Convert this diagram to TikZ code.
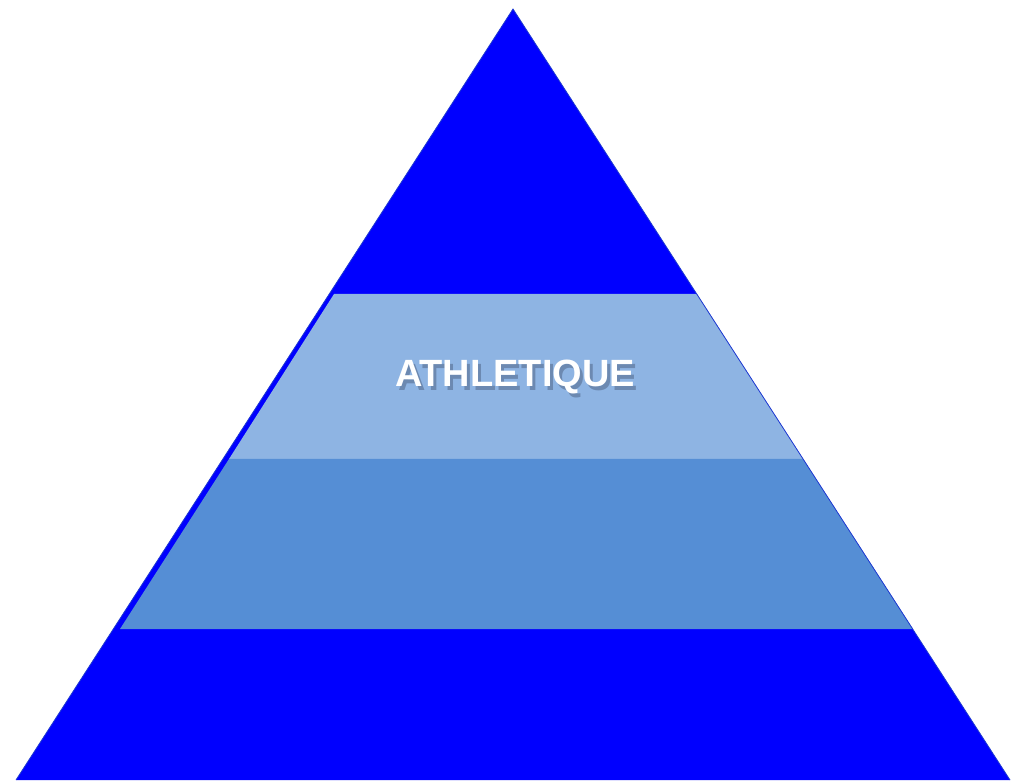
\documentclass[tikz,border=0pt]{standalone}
\usepackage{fontspec}
\setmainfont{Liberation Sans}
\definecolor{pyrblue}{HTML}{0000FF}
\definecolor{bandlight}{HTML}{8EB4E3}
\definecolor{bandmid}{HTML}{558ED5}
\definecolor{edgeblue}{HTML}{1E3AD0}
\definecolor{shadowgray}{HTML}{3A4A66}
\tikzset{
  band/.style={draw=none},
  label/.style={text=white, font=\bfseries\fontsize{38}{40}\selectfont, inner sep=0pt},
  shadowlabel/.style={text=shadowgray, opacity=0.4, font=\bfseries\fontsize{38}{40}\selectfont, inner sep=0pt}
}
\begin{document}
\begin{tikzpicture}[x=1pt,y=1pt]
\useasboundingbox (0,0) rectangle (1015,780);
% triangle
\fill[pyrblue] (16,0) -- (513,771) -- (1010,0) -- cycle;
% bands
\fill[bandlight, band] (334,486) -- (697,486) -- (803,321) -- (229,321) -- cycle;
\fill[bandmid, band] (229,321) -- (803,321) -- (913,151) -- (120,151) -- cycle;
% outline
\draw[edgeblue, line width=0.8pt, line join=miter] (16,0) -- (513,771) -- (1010,0);
% label with its shadow
\node[shadowlabel] (lblshadow) at (518,399) {ATHLETIQUE};
\node[label] (lbl) at (515,403) {ATHLETIQUE};
\end{tikzpicture}
\end{document}
